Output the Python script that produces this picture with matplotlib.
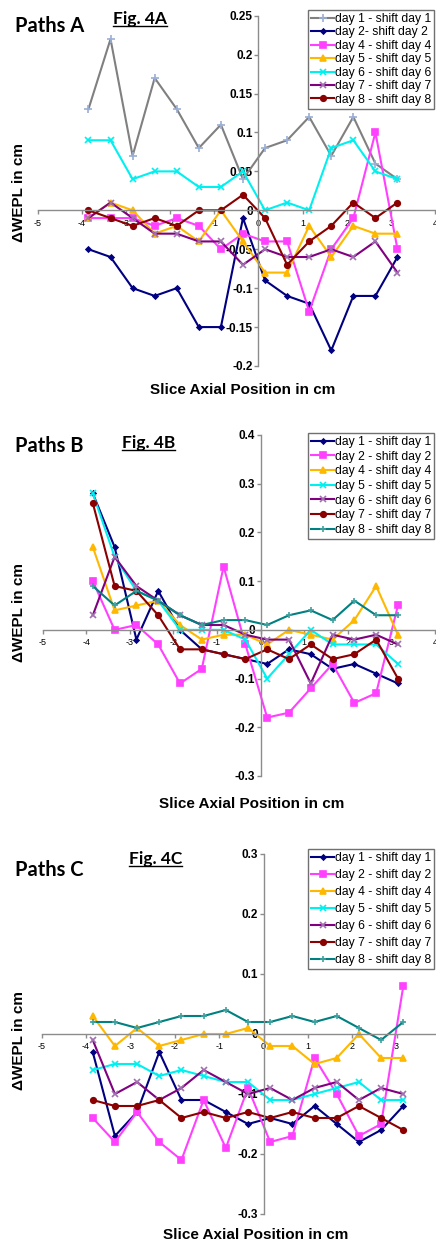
import matplotlib
matplotlib.use("Agg")
import matplotlib.pyplot as plt
from matplotlib.lines import Line2D

plt.rcParams['font.family'] = ['Liberation Sans', 'DejaVu Sans']
plt.rcParams['axes.unicode_minus'] = False

# Slice axial positions (cm)
posiciones = [-3.85, -3.35, -2.85, -2.35, -1.85, -1.35, -0.85, -0.35,
              0.15, 0.65, 1.15, 1.65, 2.15, 2.65, 3.15]

# Paths A
etiquetas_a = ['day 1 - shift day 1', 'day 2- shift day 2', 'day 4 - shift day 4',
               'day 5 - shift day 5', 'day 6 - shift day 6', 'day 7 - shift day 7',
               'day 8 - shift day 8']
a_day1 = [0.13, 0.22, 0.07, 0.17, 0.13, 0.08, 0.11, 0.04, 0.08, 0.09, 0.12, 0.07, 0.12, 0.06, 0.04]
a_day2 = [-0.05, -0.06, -0.10, -0.11, -0.10, -0.15, -0.15, -0.01, -0.09, -0.11, -0.12, -0.18, -0.11, -0.11, -0.06]
a_day4 = [-0.01, -0.01, -0.01, -0.02, -0.01, -0.02, -0.05, -0.03, -0.04, -0.04, -0.13, -0.05, -0.01, 0.10, -0.05]
a_day5 = [-0.01, 0.01, 0.0, -0.03, -0.02, -0.04, 0.0, -0.04, -0.08, -0.08, -0.02, -0.06, -0.02, -0.03, -0.03]
a_day6 = [0.09, 0.09, 0.04, 0.05, 0.05, 0.03, 0.03, 0.05, 0.0, 0.01, 0.0, 0.08, 0.09, 0.05, 0.04]
a_day7 = [-0.01, 0.01, -0.01, -0.03, -0.03, -0.04, -0.04, -0.07, -0.05, -0.06, -0.06, -0.05, -0.06, -0.04, -0.08]
a_day8 = [0.0, -0.01, -0.02, -0.01, -0.02, 0.0, 0.0, 0.02, -0.01, -0.07, -0.04, -0.02, 0.01, -0.01, 0.01]

# Paths B
etiquetas_bc = ['day 1 - shift day 1', 'day 2 - shift day 2', 'day 4 - shift day 4',
                'day 5 - shift day 5', 'day 6 - shift day 6', 'day 7 - shift day 7',
                'day 8 - shift day 8']
b_day1 = [0.28, 0.17, -0.02, 0.08, 0.0, -0.04, -0.05, -0.06, -0.07, -0.04, -0.05, -0.08, -0.07, -0.09, -0.11]
b_day2 = [0.10, 0.0, 0.01, -0.03, -0.11, -0.08, 0.13, -0.03, -0.18, -0.17, -0.12, -0.07, -0.15, -0.13, 0.05]
b_day4 = [0.17, 0.04, 0.05, 0.06, 0.01, -0.02, -0.01, -0.01, -0.03, 0.0, -0.01, -0.02, 0.02, 0.09, -0.01]
b_day5 = [0.28, 0.15, 0.08, 0.06, 0.0, 0.0, 0.0, -0.02, -0.10, -0.05, 0.0, -0.03, -0.03, -0.03, -0.07]
b_day6 = [0.03, 0.15, 0.09, 0.06, 0.03, 0.01, 0.01, -0.01, -0.02, -0.02, -0.11, -0.01, -0.02, -0.01, -0.03]
b_day7 = [0.26, 0.09, 0.08, 0.03, -0.04, -0.04, -0.05, -0.06, -0.04, -0.06, -0.03, -0.06, -0.05, -0.02, -0.10]
b_day8 = [0.09, 0.05, 0.08, 0.06, 0.03, 0.01, 0.02, 0.02, 0.01, 0.03, 0.04, 0.02, 0.06, 0.03, 0.03]

# Paths C
c_day1 = [-0.03, -0.17, -0.13, -0.03, -0.11, -0.11, -0.13, -0.15, -0.14, -0.15, -0.12, -0.15, -0.18, -0.16, -0.12]
c_day2 = [-0.14, -0.18, -0.13, -0.18, -0.21, -0.11, -0.19, -0.09, -0.18, -0.17, -0.04, -0.10, -0.17, -0.15, 0.08]
c_day4 = [0.03, -0.02, 0.01, -0.02, -0.01, 0.0, 0.0, 0.01, -0.02, -0.02, -0.05, -0.04, 0.0, -0.04, -0.04]
c_day5 = [-0.06, -0.05, -0.05, -0.07, -0.06, -0.07, -0.08, -0.08, -0.11, -0.11, -0.10, -0.09, -0.08, -0.11, -0.11]
c_day6 = [-0.01, -0.10, -0.08, -0.11, -0.09, -0.06, -0.08, -0.10, -0.09, -0.11, -0.09, -0.08, -0.11, -0.09, -0.10]
c_day7 = [-0.11, -0.12, -0.12, -0.11, -0.14, -0.13, -0.14, -0.13, -0.14, -0.13, -0.14, -0.14, -0.12, -0.14, -0.16]
c_day8 = [0.02, 0.02, 0.01, 0.02, 0.03, 0.03, 0.04, 0.02, 0.02, 0.03, 0.02, 0.03, 0.01, -0.01, 0.02]

# estilos (color de linea, marcador, color de marcador, tamano)
estilo_a = [('#808080', '+', '#9AAED6', 6), ('#000080', 'D', '#000080', 2.5),
            ('#FF40FF', 's', '#FF40FF', 4), ('#FFB800', '^', '#FFB800', 4),
            ('#00F0F0', 'x', '#00F0F0', 4), ('#800080', 'x', '#A070B0', 4),
            ('#8B0000', 'o', '#8B0000', 4)]
estilo_bc = [('#000080', 'D', '#000080', 2.5), ('#FF40FF', 's', '#FF40FF', 4),
             ('#FFB800', '^', '#FFB800', 4), ('#00F0F0', 'x', '#00F0F0', 4),
             ('#800080', 'x', '#A070B0', 4), ('#8B0000', 'o', '#8B0000', 4),
             ('#008080', '+', '#40A0A0', 5)]

W, H = 436, 1245
fig = plt.figure(figsize=(W / 100, H / 100), dpi=100)


def panel(left, right, top, bottom, ylim, yticks, xlabels, series, labels, estilos,
          leg_top, leg_spacing, nombre, nombre_y, fig_txt, fig_x, fig_y,
          xlab_x, xlab_y, ylab_y):
    ax = fig.add_axes([left / W, 1 - bottom / H, (right - left) / W, (bottom - top) / H])
    for vals, lab, (c, m, mc, ms) in zip(series, labels, estilos):
        ax.plot(posiciones, vals, color=c, lw=1.5, marker=m, ms=ms,
                mfc=mc, mec=mc, mew=1.2, label=lab)
    ax.set_xlim(-5, 4)
    ax.set_ylim(*ylim)
    ax.set_xticks(range(-5, 5))
    ax.set_xticklabels(xlabels)
    ax.set_yticks(yticks)
    ax.set_yticklabels([('%g' % t) for t in yticks])
    for s in ['top', 'right']:
        ax.spines[s].set_visible(False)
    ax.spines['left'].set_position(('data', 0))
    ax.spines['bottom'].set_position(('data', 0))
    for s in ['left', 'bottom']:
        ax.spines[s].set_color('#8C8C8C')
        ax.spines[s].set_linewidth(1.0)
    ax.tick_params(axis='x', direction='out', length=3, width=1, color='#8C8C8C',
                   labelsize=6.5, pad=3)
    ax.tick_params(axis='y', direction='out', length=3, width=1, color='#8C8C8C',
                   labelsize=8.5, pad=1)
    for t in ax.get_yticklabels():
        t.set_fontweight('bold')
    ax.patch.set_alpha(0)
    leg = ax.legend(loc='upper left', bbox_to_anchor=(308 / W, 1 - leg_top / H),
                    bbox_transform=fig.transFigure, borderaxespad=0, fontsize=8.7,
                    labelspacing=leg_spacing, handlelength=1.9, handletextpad=0.1,
                    borderpad=0.25, fancybox=False, framealpha=1)
    leg.get_frame().set_edgecolor('#707070')
    leg.get_frame().set_linewidth(1.0)
    fig.text(15 / W, 1 - nombre_y / H, nombre, fontfamily='Lato', fontweight='bold',
             fontsize=14.5, va='center', ha='left')
    ft = fig.text(fig_x / W, 1 - fig_y / H, fig_txt, fontfamily='Lato', fontweight='bold',
                  fontsize=12.5, va='center', ha='left')
    fig.text(xlab_x / W, 1 - xlab_y / H, 'Slice Axial Position in cm', fontweight='bold',
             fontsize=11, ha='center', va='center')
    fig.text(19 / W, 1 - ylab_y / H, 'ΔWEPL in cm', fontweight='bold', fontsize=11,
             rotation=90, ha='center', va='center')
    return ft


x_etiquetas = ['-5', '-4', '-3', '-2', '-1', '0', '1', '2', '3', '4']

titulos = []
titulos.append(panel(37.7, 435, 15.7, 366, (-0.2, 0.25),
                     [-0.2, -0.15, -0.1, -0.05, 0, 0.05, 0.1, 0.15, 0.2, 0.25], x_etiquetas,
                     [a_day1, a_day2, a_day4, a_day5, a_day6, a_day7, a_day8],
                     etiquetas_a, estilo_a, 10, 0.12, 'Paths A', 26, 'Fig. 4A', 113, 19,
                     243, 390, 192))
titulos.append(panel(42.7, 435, 435, 776, (-0.3, 0.4),
                     [-0.3, -0.2, -0.1, 0, 0.1, 0.2, 0.3, 0.4], x_etiquetas,
                     [b_day1, b_day2, b_day4, b_day5, b_day6, b_day7, b_day8],
                     etiquetas_bc, estilo_bc, 433, 0.22, 'Paths B', 446, 'Fig. 4B', 122, 443,
                     252, 804, 612))
# en el panel C la etiqueta "4" queda fuera de la imagen
titulos.append(panel(41.7, 441, 854, 1214, (-0.3, 0.3),
                     [-0.3, -0.2, -0.1, 0, 0.1, 0.2, 0.3], x_etiquetas[:-1] + [''],
                     [c_day1, c_day2, c_day4, c_day5, c_day6, c_day7, c_day8],
                     etiquetas_bc, estilo_bc, 849, 0.42, 'Paths C', 870, 'Fig. 4C', 129, 859,
                     256, 1235, 1040))

# subrayado de los titulos "Fig. 4X"
fig.canvas.draw()
r = fig.canvas.get_renderer()
for t in titulos:
    bb = t.get_window_extent(r).transformed(fig.transFigure.inverted())
    fig.add_artist(Line2D([bb.x0, bb.x1], [bb.y0 + 0.0006, bb.y0 + 0.0006],
                          transform=fig.transFigure, color='black', lw=1.0))

fig.savefig('out.png', dpi=100)
